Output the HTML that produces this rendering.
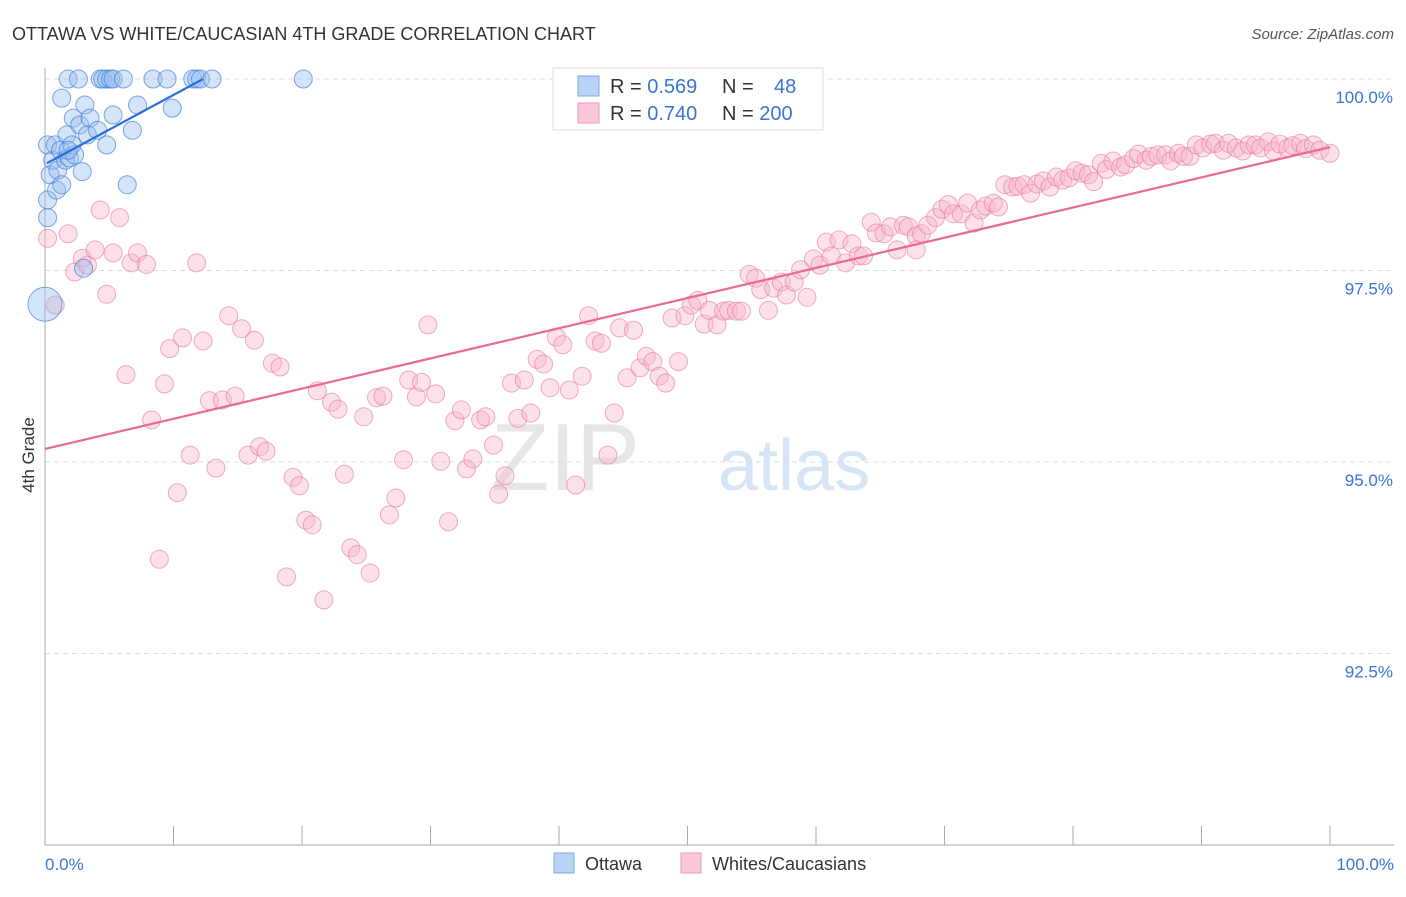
<!DOCTYPE html>
<html><head><meta charset="utf-8"><style>
body{margin:0;background:#fff;font-family:"Liberation Sans",sans-serif;}
svg text{font-family:"Liberation Sans",sans-serif;}
</style></head><body>
<svg width="1406" height="892">
<text x="12" y="40" font-size="18" fill="#333">OTTAWA VS WHITE/CAUCASIAN 4TH GRADE CORRELATION CHART</text>
<text x="1394" y="39" font-size="15" fill="#555" font-style="italic" text-anchor="end">Source: ZipAtlas.com</text>
<text x="640" y="490" font-size="96" fill="#e6e6e6" font-family="Liberation Serif" text-anchor="end">ZIP</text>
<text x="718" y="490" font-size="72" fill="#d6e4f5">atlas</text>
<g id="grid"></g>
<line x1="45" y1="68" x2="45" y2="845" stroke="#aaa"/>
<line x1="45" y1="845" x2="1394" y2="845" stroke="#aaa"/>
<text transform="translate(34,455) rotate(-90)" font-size="17" fill="#333" text-anchor="middle">4th Grade</text>
<text x="45" y="870" font-size="17" fill="#3a74d4">0.0%</text>
<text x="1394" y="870" font-size="17" fill="#3a74d4" text-anchor="end">100.0%</text>
<g id="pink"></g><g id="blue"></g><g id="trends"></g>
<g>
<rect x="553" y="68" width="270" height="62" fill="#fff" stroke="#ddd"/>
<rect x="578" y="76" width="21" height="20" fill="#b9d3f5" stroke="#7aa7e6"/>
<rect x="578" y="103" width="21" height="20" fill="#fac8d7" stroke="#ef9ab4"/>
<text x="610" y="93" font-size="20" fill="#333">R = <tspan fill="#3a74d4">0.569</tspan></text>
<text x="722" y="93" font-size="20" fill="#333">N = <tspan fill="#3a74d4" x="774">48</tspan></text>
<text x="610" y="120" font-size="20" fill="#333">R = <tspan fill="#3a74d4">0.740</tspan></text>
<text x="722" y="120" font-size="20" fill="#333">N = <tspan fill="#3a74d4">200</tspan></text>
</g>
<g>
<rect x="554" y="853" width="20" height="20" fill="#b9d3f5" stroke="#7aa7e6"/>
<text x="585" y="870" font-size="18" fill="#333">Ottawa</text>
<rect x="681" y="853" width="20" height="20" fill="#fac8d7" stroke="#ef9ab4"/>
<text x="712" y="870" font-size="18" fill="#333">Whites/Caucasians</text>
</g>
</svg>
<script>
const yTicks=[100,97.5,95,92.5];
const yTickLabels=["100.0%","97.5%","95.0%","92.5%"];
const xTicks=[0,10,20,30,40,50,60,70,80,90,100];
const pinkX=[0.2,0.8,1.8,2.3,2.9,3.3,3.9,4.3,4.8,5.3,5.8,6.3,6.7,7.2,7.9,8.3,8.9,9.3,9.7,10.3,10.7,11.3,11.8,12.3,12.8,13.3,13.8,14.3,14.8,15.3,15.8,16.3,16.7,17.2,17.7,18.3,18.8,19.3,19.8,20.3,20.8,21.2,21.7,22.3,22.8,23.3,23.8,24.3,24.8,25.3,25.8,26.3,26.8,27.3,27.9,28.3,28.9,29.3,29.8,30.4,30.8,31.4,31.9,32.4,32.8,33.3,33.9,34.3,34.9,35.3,35.8,36.3,36.8,37.3,37.8,38.3,38.8,39.3,39.8,40.3,40.8,41.3,41.8,42.3,42.8,43.3,43.8,44.3,44.7,45.3,45.8,46.3,46.8,47.3,47.8,48.3,48.8,49.3,49.8,50.3,50.8,51.3,51.7,52.3,52.8,53.2,53.8,54.2,54.8,55.3,55.7,56.3,56.7,57.3,57.7,58.3,58.8,59.3,59.8,60.3,60.8,61.2,61.8,62.3,62.8,63.3,63.7,64.3,64.7,65.3,65.8,66.3,66.8,67.2,67.8,68.2,68.7,69.3,69.8,70.3,70.7,71.3,71.8,72.3,72.8,73.2,73.8,74.2,74.7,75.3,75.7,76.2,76.7,77.2,77.7,78.2,78.7,79.2,79.7,80.2,80.7,81.2,81.6,82.2,82.6,83.1,83.7,84.1,84.7,85.1,85.7,86.1,86.6,87.2,87.6,88.2,88.6,89.1,89.6,90.1,90.7,91.1,91.7,92.1,92.7,93.2,93.7,94.2,94.6,95.2,95.6,96.1,96.7,97.1,97.7,98.1,98.7,99.2,100,67.8];
const pinkY=[97.92,97.05,97.98,97.48,97.66,97.57,97.77,98.29,97.19,97.73,98.19,96.14,97.6,97.73,97.58,95.55,93.73,96.02,96.48,94.6,96.62,95.09,97.6,96.58,95.8,94.92,95.81,96.91,95.86,96.74,95.09,96.59,95.2,95.14,96.29,96.24,93.5,94.8,94.69,94.24,94.18,95.93,93.2,95.78,95.69,94.84,93.88,93.79,95.59,93.55,95.84,95.86,94.31,94.53,95.03,96.07,95.85,96.04,96.79,95.89,95.01,94.22,95.54,95.68,94.91,95.04,95.55,95.59,95.22,94.58,94.82,96.03,95.57,96.07,95.64,96.34,96.28,95.97,96.63,96.53,95.94,94.7,96.12,96.91,96.58,96.55,95.09,95.64,96.75,96.1,96.72,96.23,96.38,96.31,96.12,96.03,96.88,96.31,96.91,97.05,97.11,96.8,96.98,96.79,96.97,96.98,96.97,96.97,97.45,97.4,97.25,96.98,97.27,97.35,97.18,97.35,97.51,97.15,97.65,97.57,97.87,97.69,97.9,97.6,97.85,97.69,97.69,98.13,97.99,97.98,98.07,97.77,98.09,98.07,97.95,97.98,98.09,98.19,98.3,98.36,98.24,98.24,98.38,98.12,98.29,98.34,98.38,98.33,98.62,98.59,98.6,98.62,98.51,98.63,98.67,98.59,98.72,98.68,98.71,98.8,98.77,98.75,98.66,98.9,98.82,98.93,98.85,98.88,98.96,99.02,98.94,98.99,99.01,99.01,98.93,99.03,98.99,98.99,99.14,99.1,99.15,99.16,99.07,99.16,99.1,99.06,99.14,99.14,99.1,99.18,99.06,99.15,99.1,99.13,99.16,99.09,99.14,99.07,99.03,97.77];
const blueX=[0,0.2,0.2,0.2,0.4,0.6,0.8,0.9,1.0,1.2,1.3,1.3,1.6,1.7,1.8,1.9,2.1,2.2,2.3,2.6,2.7,2.9,3.1,3.3,3.5,4.1,4.3,4.5,4.8,5.1,5.3,4.8,5.3,6.1,6.4,6.8,7.2,8.4,9.5,9.9,11.5,11.8,12.1,13.0,20.1,3.0,1.8];
const blueY=[97.06,99.14,98.42,98.19,98.75,98.94,99.14,98.55,98.81,99.07,99.75,98.62,98.94,99.27,100,98.97,99.14,99.49,99.01,100,99.4,98.79,99.66,99.27,99.49,99.33,100,100,100,100,100,99.14,99.53,100,98.62,99.33,99.66,100,100,99.62,100,100,100,100,100,97.53,99.07];
const blueSize=[17,9,9,9,9,9,9,9,9,9,9,9,9,9,9,9,9,9,9,9,9,9,9,9,9,9,9,9,9,9,9,9,9,9,9,9,9,9,9,9,9,9,9,9,9,9,9];
const pinkTrend=[[0,95.17],[100,99.11]];
const blueTrend=[[0.15,98.9],[12.3,100]];
const NS="http://www.w3.org/2000/svg";
const sx=v=>45+v*12.85;
const sy=v=>79+(100-v)*76.6;
function mk(tag,attrs,parent){const e=document.createElementNS(NS,tag);for(const k in attrs)e.setAttribute(k,attrs[k]);parent.appendChild(e);return e;}
const grid=document.getElementById('grid');
yTicks.forEach((t,i)=>{
  const l=mk('line',{x1:45,x2:1394,y1:sy(t),y2:sy(t),stroke:'#ddd','stroke-dasharray':'5,4'},grid);
  
  
  const tx=mk('text',{x:1393,y:sy(t)+24,'font-size':17,fill:'#3a74d4','text-anchor':'end'},grid);
  tx.textContent=yTickLabels[i];
  
  
});
xTicks.forEach(t=>{
  const l=mk('line',{x1:sx(t),x2:sx(t),y1:826,y2:845,stroke:'#aaa'},grid);
  
  
});
const pg=document.getElementById('pink');
pinkX.forEach((x,i)=>{
  const c=mk('circle',{cx:sx(x),cy:sy(pinkY[i]),r:9,fill:'rgba(248,180,200,0.4)',stroke:'rgba(232,120,155,0.6)','stroke-width':1},pg);
  
  
});
const bg=document.getElementById('blue');
blueX.forEach((x,i)=>{
  const c=mk('circle',{cx:sx(x),cy:sy(blueY[i]),r:blueSize[i],fill:'rgba(150,190,240,0.4)',stroke:'rgba(70,130,215,0.7)','stroke-width':1},bg);
  
  
});
const tg=document.getElementById('trends');
const pt=mk('line',{x1:sx(pinkTrend[0][0]),y1:sy(pinkTrend[0][1]),x2:sx(pinkTrend[1][0]),y2:sy(pinkTrend[1][1]),stroke:'#e8689a','stroke-width':2.2},tg);


const bt=mk('line',{x1:sx(blueTrend[0][0]),y1:sy(blueTrend[0][1]),x2:sx(blueTrend[1][0]),y2:sy(blueTrend[1][1]),stroke:'#2a6fd6','stroke-width':2.2},tg);


</script>
</body></html>
